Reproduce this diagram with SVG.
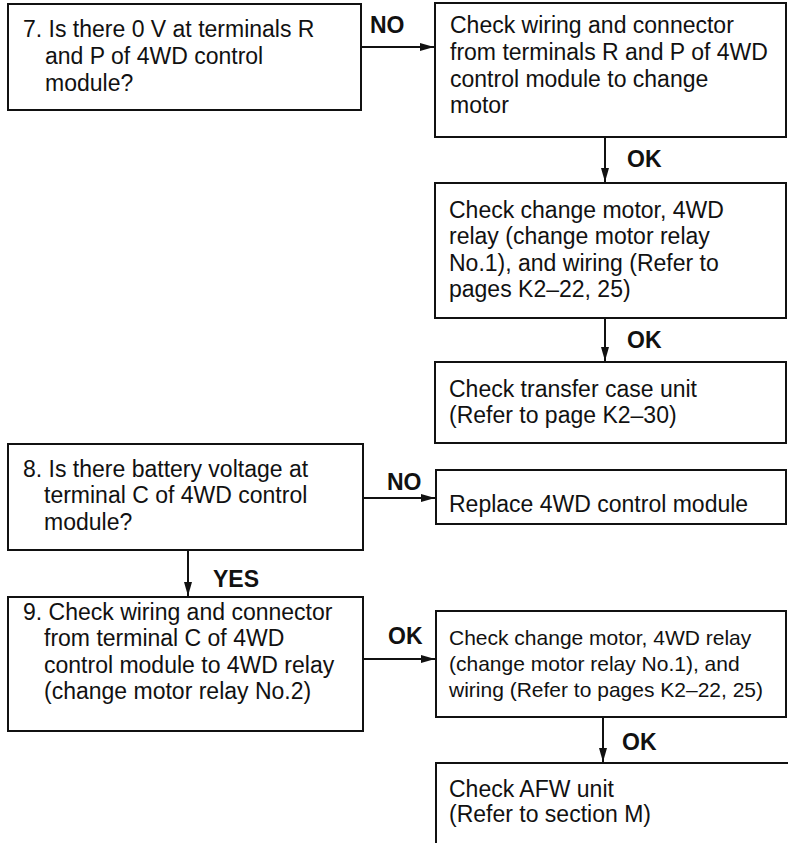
<svg xmlns="http://www.w3.org/2000/svg" width="788" height="843" viewBox="0 0 788 843">
  <style>
    .box { fill: #fff; stroke: #111; stroke-width: 2; }
    .open { fill: none; stroke: #111; stroke-width: 2; }
    .txt { font-family: "Liberation Sans", Arial, sans-serif; font-size: 23px; fill: #111; }
    .sm { font-size: 21px; }
    .lbl { font-family: "Liberation Sans", Arial, sans-serif; font-size: 23px; font-weight: bold; fill: #111; }
    .edge { stroke: #111; stroke-width: 2; fill: none; marker-end: url(#arrow); }
  </style>
  <defs>
    <marker id="arrow" viewBox="0 0 14 8" refX="14" refY="4" markerWidth="14" markerHeight="8" markerUnits="userSpaceOnUse" orient="auto">
      <path d="M0,0 L14,4 L0,8 Z" fill="#111"/>
    </marker>
  </defs>
  <rect width="788" height="843" fill="#fff"/>

  <g id="connectors">
    <line class="edge" x1="361" y1="47" x2="434" y2="47"/>
    <text class="lbl" x="370" y="33">NO</text>
    <line class="edge" x1="605" y1="137" x2="605" y2="182"/>
    <text class="lbl" x="627" y="167">OK</text>
    <line class="edge" x1="605" y1="318" x2="605" y2="361"/>
    <text class="lbl" x="627" y="348">OK</text>
    <line class="edge" x1="363" y1="498" x2="435" y2="498"/>
    <text class="lbl" x="387" y="490">NO</text>
    <line class="edge" x1="188" y1="550" x2="188" y2="596"/>
    <text class="lbl" x="213" y="587">YES</text>
    <line class="edge" x1="363" y1="659" x2="435" y2="659"/>
    <text class="lbl" x="388" y="644">OK</text>
    <line class="edge" x1="603" y1="717" x2="603" y2="762"/>
    <text class="lbl" x="622" y="750">OK</text>
  </g>

  <g id="step7">
    <rect class="box" x="8" y="4" width="353" height="106"/>
    <text class="txt" x="23" y="37">7. Is there 0 V at terminals R</text>
    <text class="txt" x="45" y="64">and P of 4WD control</text>
    <text class="txt" x="45" y="91">module?</text>
  </g>

  <g id="check-wiring-rp">
    <rect class="box" x="435" y="3" width="351" height="134"/>
    <text class="txt" x="450" y="33">Check wiring and connector</text>
    <text class="txt" x="450" y="60">from terminals R and P of 4WD</text>
    <text class="txt" x="450" y="87">control module to change</text>
    <text class="txt" x="450" y="113">motor</text>
  </g>

  <g id="check-motor-relay1">
    <rect class="box" x="435" y="183" width="351" height="135"/>
    <text class="txt" x="449" y="218">Check change motor, 4WD</text>
    <text class="txt" x="449" y="244">relay (change motor relay</text>
    <text class="txt" x="449" y="271">No.1), and wiring (Refer to</text>
    <text class="txt" x="449" y="297">pages K2–22, 25)</text>
  </g>

  <g id="check-transfer-case">
    <rect class="box" x="435" y="362" width="351" height="81"/>
    <text class="txt" x="449" y="397">Check transfer case unit</text>
    <text class="txt" x="449" y="423">(Refer to page K2–30)</text>
  </g>

  <g id="step8">
    <rect class="box" x="8" y="444" width="355" height="106"/>
    <text class="txt" x="23" y="477">8. Is there battery voltage at</text>
    <text class="txt" x="44" y="503">terminal C of 4WD control</text>
    <text class="txt" x="44" y="530">module?</text>
  </g>

  <g id="replace-module">
    <rect class="box" x="436" y="470" width="350" height="54"/>
    <text class="txt" x="449" y="512">Replace 4WD control module</text>
  </g>

  <g id="step9">
    <rect class="box" x="8" y="597" width="355" height="134"/>
    <text class="txt" x="23" y="620">9. Check wiring and connector</text>
    <text class="txt" x="44" y="646">from terminal C of 4WD</text>
    <text class="txt" x="44" y="673">control module to 4WD relay</text>
    <text class="txt" x="44" y="699">(change motor relay No.2)</text>
  </g>

  <g id="check-motor-relay1-b">
    <rect class="box" x="436" y="611" width="350" height="106"/>
    <text class="txt sm" x="449" y="645">Check change motor, 4WD relay</text>
    <text class="txt sm" x="449" y="671">(change motor relay No.1), and</text>
    <text class="txt sm" x="449" y="697">wiring (Refer to pages K2–22, 25)</text>
  </g>

  <g id="check-afw">
    <!-- box runs off the page: top and left sides only -->
    <path class="open" d="M436,845 V763 H788"/>
    <text class="txt" x="449" y="797">Check AFW unit</text>
    <text class="txt" x="449" y="822">(Refer to section M)</text>
  </g>
</svg>
